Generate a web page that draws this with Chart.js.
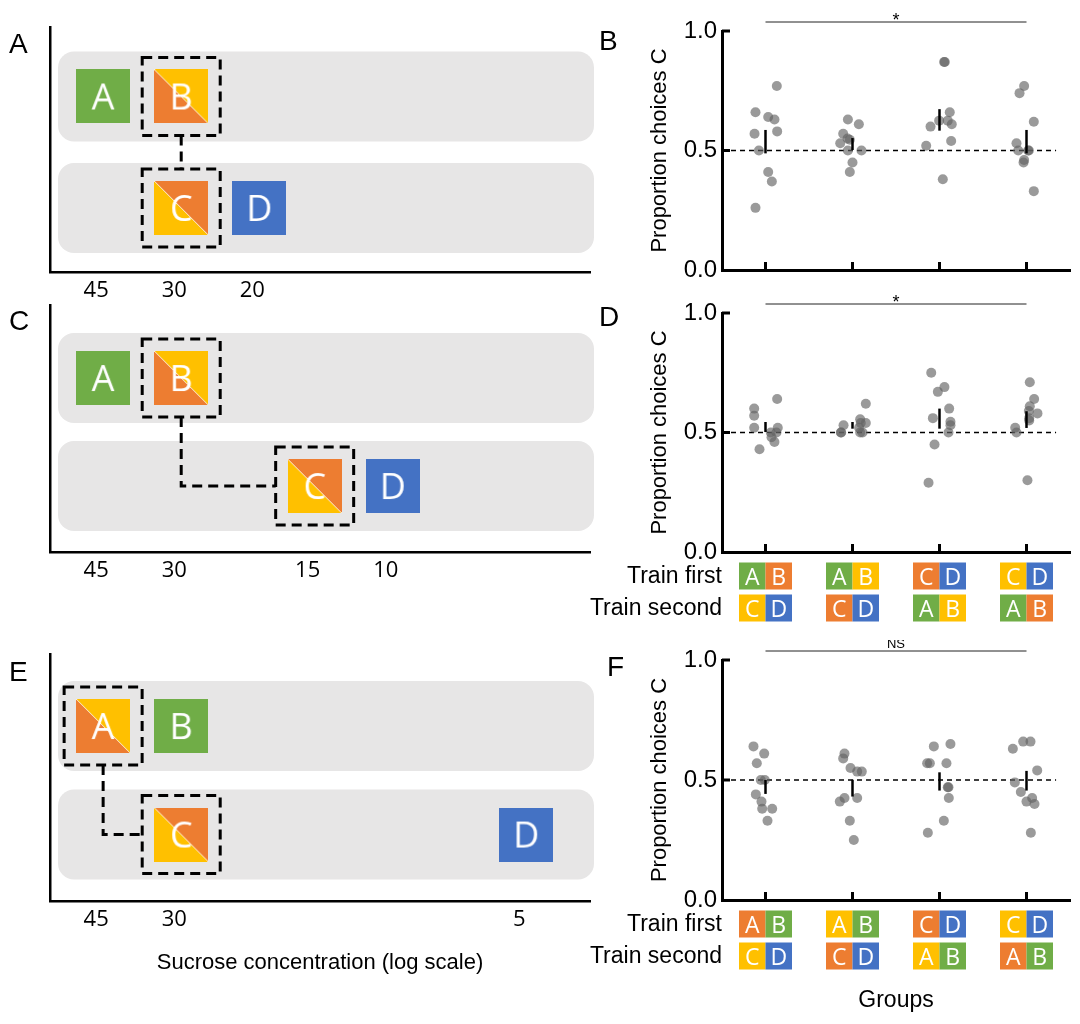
<!DOCTYPE html>
<html>
<head>
<meta charset="utf-8">
<script src="https://cdn.jsdelivr.net/npm/chart.js@4.4.1/dist/chart.umd.min.js"></script>
<style>
  body { margin: 0; background: #fff; }
  #fig { position: relative; width: 1080px; height: 1024px; overflow: hidden; }
  canvas { position: absolute; }
  .lab { position: absolute; font-family: "Liberation Sans", Arial, sans-serif; font-size: 28px; line-height: 1; color: #000; }
</style>
</head>
<body>
<div id="fig">
  <canvas id="pA" width="600" height="320" style="left:0;top:0"></canvas>
  <canvas id="pC" width="600" height="320" style="left:0;top:300px"></canvas>
  <canvas id="pE" width="600" height="384" style="left:0;top:640px"></canvas>
  <canvas id="pB" width="500" height="290" style="left:580px;top:0"></canvas>
  <canvas id="pD" width="500" height="340" style="left:580px;top:290px"></canvas>
  <canvas id="pF" width="500" height="384" style="left:580px;top:640px"></canvas>
  <div class="lab" style="left:9px;top:30px">A</div>
  <div class="lab" style="left:9px;top:307px">C</div>
  <div class="lab" style="left:9px;top:658px">E</div>
  <div class="lab" style="left:599px;top:27px">B</div>
  <div class="lab" style="left:599px;top:303px">D</div>
  <div class="lab" style="left:607px;top:653px">F</div>
</div>
<script>
document.addEventListener("DOMContentLoaded", function () {

  // ---- right panels: proportion of C choices per group ----
  const groups = [1, 2, 3, 4];
  const yTicks = [0, 0.5, 1];
  const chance = 0.5;

  const bVals = [
    [0.66, 0.64, 0.63, 0.77, 0.57, 0.58, 0.50, 0.41, 0.37, 0.26],
    [0.63, 0.61, 0.57, 0.55, 0.53, 0.545, 0.50, 0.50, 0.45, 0.41],
    [0.87, 0.87, 0.66, 0.625, 0.625, 0.61, 0.60, 0.54, 0.52, 0.38],
    [0.77, 0.74, 0.62, 0.53, 0.50, 0.50, 0.46, 0.45, 0.33, 0.50]
  ];
  const bJit = [
    [-0.115, 0.031, 0.103, 0.130, -0.126, 0.134, -0.076, 0.031, 0.073, -0.115],
    [-0.053, 0.073, -0.107, -0.057, -0.141, -0.031, -0.053, 0.103, 0, -0.031],
    [0.053, 0.061, 0.118, -0.004, 0.095, 0.141, -0.103, 0.134, -0.153, 0.038],
    [-0.027, -0.080, 0.084, -0.115, -0.095, 0.019, -0.027, -0.034, 0.084, 0.027]
  ];
  const bMean = [0.537, 0.527, 0.628, 0.537];
  const bSem = [0.049, 0.025, 0.045, 0.049];

  const dVals = [
    [0.60, 0.57, 0.52, 0.64, 0.52, 0.50, 0.48, 0.46, 0.43, 0.50],
    [0.50, 0.53, 0.555, 0.54, 0.62, 0.50, 0.54, 0.52, 0.50, 0.50],
    [0.75, 0.67, 0.69, 0.60, 0.56, 0.545, 0.53, 0.50, 0.45, 0.29],
    [0.71, 0.64, 0.61, 0.58, 0.56, 0.55, 0.52, 0.50, 0.30, 0.59]
  ];
  const dJit = [
    [-0.130, -0.130, -0.130, 0.134, 0.141, 0.061, 0.069, 0.103, -0.069, 0.126],
    [-0.134, -0.103, 0.088, 0.095, 0.153, 0.115, 0.153, 0.076, 0.088, -0.130],
    [-0.095, -0.019, 0.057, 0.111, -0.076, 0.126, 0.126, 0.103, -0.057, -0.126],
    [0.038, 0.088, 0.038, 0.126, 0.031, 0.031, -0.130, -0.115, 0.011, 0.027]
  ];
  const dMean = [0.523, 0.530, 0.558, 0.554];
  const dSem = [0.021, 0.014, 0.042, 0.035];

  const fVals = [
    [0.64, 0.61, 0.57, 0.50, 0.44, 0.41, 0.38, 0.38, 0.33, 0.50],
    [0.61, 0.59, 0.55, 0.535, 0.535, 0.425, 0.41, 0.425, 0.33, 0.25],
    [0.64, 0.65, 0.57, 0.57, 0.57, 0.47, 0.425, 0.33, 0.28, 0.47],
    [0.63, 0.66, 0.66, 0.54, 0.49, 0.45, 0.425, 0.41, 0.40, 0.28]
  ];
  const fJit = [
    [-0.138, -0.015, -0.100, -0.054, -0.111, -0.046, -0.038, 0.077, 0.023, -0.008],
    [-0.092, -0.107, -0.023, 0.054, 0.107, -0.092, -0.146, 0.054, -0.031, 0.015],
    [-0.065, 0.126, -0.142, -0.111, 0.080, 0.103, 0.107, 0.050, -0.134, 0.095],
    [-0.157, -0.038, 0.046, 0.123, -0.134, -0.065, 0.065, 0, 0.092, 0.050]
  ];
  const fMean = [0.471, 0.466, 0.494, 0.497];
  const fSem = [0.029, 0.035, 0.038, 0.041];

  // training pairs under D and F (letters + colour keys)
  const trainFirstD = ['AB', 'AB', 'CD', 'CD'];
  const trainFirstDKey = ['GO', 'GY', 'OB', 'YB'];
  const trainSecondD = ['CD', 'CD', 'AB', 'AB'];
  const trainSecondDKey = ['YB', 'OB', 'GY', 'GO'];
  const trainFirstF = ['AB', 'AB', 'CD', 'CD'];
  const trainFirstFKey = ['OG', 'YG', 'OB', 'YB'];
  const trainSecondF = ['CD', 'CD', 'AB', 'AB'];
  const trainSecondFKey = ['YB', 'OB', 'YG', 'OG'];

  // ---- left panels: stimuli on sucrose concentration axis ----
  const stim = ['A', 'B', 'C', 'D'];
  const row = [1, 1, 0, 0];
  const concA = [45, 30, 30, 20];
  const concC = [45, 30, 15, 10];
  const concE = [45, 30, 30, 5];
  const keyAC = ['G', 'OY', 'YO', 'B'];
  const keyE = ['OY', 'G', 'YO', 'B'];
  const pairA = [1, 2];
  const pairC = [1, 2];
  const pairE = [0, 2];
  const tickA = [45, 30, 20];
  const tickC = [45, 30, 15, 10];
  const tickE = [45, 30, 5];

  const PAL = { G: '#70AD47', O: '#ED7D31', Y: '#FFC000', B: '#4472C4' };
  const SANS = '"Liberation Sans", Arial, sans-serif';
  const OPEN = '"Open Sans", sans-serif';

  // coloured square with a letter; two-colour keys are split on the diagonal
  function tile(letter, key) {
    const c = document.createElement('canvas');
    c.width = 54; c.height = 54;
    const g = c.getContext('2d');
    if (key.length === 1) {
      g.fillStyle = PAL[key]; g.fillRect(0, 0, 54, 54);
    } else {
      g.fillStyle = PAL[key[0]];
      g.beginPath(); g.moveTo(0, 0); g.lineTo(54, 54); g.lineTo(0, 54); g.closePath(); g.fill();
      g.fillStyle = PAL[key[1]];
      g.beginPath(); g.moveTo(0, 0); g.lineTo(54, 0); g.lineTo(54, 54); g.closePath(); g.fill();
      g.strokeStyle = 'rgba(255,255,255,0.8)'; g.lineWidth = 1;
      g.beginPath(); g.moveTo(0, 0); g.lineTo(54, 54); g.stroke();
    }
    g.fillStyle = '#fff';
    g.font = '36px ' + OPEN;
    g.textAlign = 'center';
    g.textBaseline = 'alphabetic';
    g.fillText(letter, 27, 40);
    return c;
  }

  function diagram(id, conc, keys, pair, ticks, pad, xh, yMin, yMax, xTitle) {
    const decor = {
      id: 'decor',
      beforeDatasetsDraw(chart) {
        const { ctx, chartArea: a, scales: { y } } = chart;
        ctx.save();
        ctx.fillStyle = '#E7E6E6';
        [1, 0].forEach(r => {
          const cy = y.getPixelForValue(r);
          ctx.beginPath();
          ctx.roundRect(a.left + 8, cy - 45, a.right - a.left - 4, 90, 16);
          ctx.fill();
        });
        ctx.restore();
      },
      afterDatasetsDraw(chart) {
        const { ctx, scales: { x, y } } = chart;
        const [u, l] = pair;
        const ux = x.getPixelForValue(conc[u]), uy = y.getPixelForValue(row[u]);
        const lx = x.getPixelForValue(conc[l]), ly = y.getPixelForValue(row[l]);
        const h = 39;
        ctx.save();
        ctx.strokeStyle = '#000';
        ctx.lineWidth = 3;
        ctx.setLineDash([10, 6]);
        ctx.strokeRect(ux - h, uy - h, 2 * h, 2 * h);
        ctx.strokeRect(lx - h, ly - h, 2 * h, 2 * h);
        ctx.beginPath();
        ctx.moveTo(ux, uy + h);
        if (Math.abs(ux - lx) < 1) {
          ctx.lineTo(lx, ly - h);
        } else {
          ctx.lineTo(ux, ly);
          ctx.lineTo(lx - h, ly);
        }
        ctx.stroke();
        ctx.restore();
      }
    };

    new Chart(document.getElementById(id), {
      type: 'scatter',
      data: {
        datasets: [{
          data: conc.map((c, i) => ({ x: c, y: row[i] })),
          pointStyle: stim.map((s, i) => tile(s, keys[i])),
          pointRadius: 27,
          pointHoverRadius: 27
        }]
      },
      options: {
        responsive: false,
        animation: false,
        events: [],
        layout: { padding: pad, autoPadding: false },
        plugins: { legend: { display: false }, tooltip: { enabled: false } },
        scales: {
          x: {
            type: 'logarithmic',
            reverse: true,
            min: 3.59,
            max: 59.3,
            afterBuildTicks: s => { s.ticks = ticks.map(v => ({ value: v })); },
            afterFit: s => { s.height = xh; s.paddingLeft = 0; s.paddingRight = 0; },
            grid: { display: false, drawTicks: false },
            border: { display: true, color: '#000', width: 2.5 },
            ticks: {
              autoSkip: false, maxRotation: 0, padding: 6, labelOffset: -7,
              color: '#000', font: { family: OPEN, size: 22 },
              callback: v => String(v)
            },
            title: xTitle
              ? { display: true, text: xTitle, color: '#000', font: { family: SANS, size: 22 }, padding: { top: 0, bottom: 48 } }
              : { display: false }
          },
          y: {
            min: yMin,
            max: yMax,
            afterFit: s => { s.width = 50; },
            grid: { display: false, drawTicks: false },
            border: { display: true, color: '#000', width: 2.5 },
            ticks: { display: false }
          }
        }
      },
      plugins: [decor]
    });
  }

  function dotPanel(id, vals, jit, mean, sem, sig, pad, xh, train, xTitle) {
    const points = [];
    vals.forEach((arr, g) => arr.forEach((v, k) => points.push({ x: groups[g] + jit[g][k], y: v })));

    const decor = {
      id: 'decor',
      afterDatasetsDraw(chart) {
        const { ctx, scales: { x, y } } = chart;
        ctx.save();
        ctx.strokeStyle = '#000';
        ctx.lineWidth = 2.5;
        groups.forEach((gv, g) => {
          const px = x.getPixelForValue(gv);
          ctx.beginPath();
          ctx.moveTo(px, y.getPixelForValue(mean[g] - sem[g]));
          ctx.lineTo(px, y.getPixelForValue(mean[g] + sem[g]));
          ctx.stroke();
        });
        ctx.restore();
      },
      afterDraw(chart) {
        const { ctx, chartArea: a, scales: { x, y } } = chart;
        ctx.save();
        // inward tick marks
        ctx.strokeStyle = '#000';
        ctx.lineWidth = 3;
        yTicks.slice(1).forEach(v => {
          const py = y.getPixelForValue(v);
          ctx.beginPath(); ctx.moveTo(a.left, py); ctx.lineTo(a.left + 8, py); ctx.stroke();
        });
        groups.forEach(gv => {
          const px = x.getPixelForValue(gv);
          ctx.beginPath(); ctx.moveTo(px, a.bottom); ctx.lineTo(px, a.bottom - 8); ctx.stroke();
        });
        // significance bar
        const x1 = x.getPixelForValue(groups[0]), x4 = x.getPixelForValue(groups[3]);
        ctx.lineWidth = 1;
        ctx.strokeStyle = '#222';
        ctx.beginPath(); ctx.moveTo(x1, a.top - 9); ctx.lineTo(x4, a.top - 9); ctx.stroke();
        ctx.fillStyle = '#000';
        ctx.textAlign = 'center';
        ctx.textBaseline = 'alphabetic';
        if (sig === '*') {
          ctx.font = '18px ' + SANS;
          ctx.fillText(sig, (x1 + x4) / 2, a.top - 5);
        } else {
          ctx.font = '13px ' + SANS;
          ctx.fillText(sig, (x1 + x4) / 2, a.top - 12);
        }
        // training pairs
        if (train) {
          const rows = [
            ['Train first', train.first, train.firstKey, 24],
            ['Train second', train.second, train.secondKey, 56]
          ];
          rows.forEach(([label, letters, keys, off]) => {
            const cy = a.bottom + off;
            ctx.font = '23px ' + SANS;
            ctx.textAlign = 'right';
            ctx.textBaseline = 'middle';
            ctx.fillStyle = '#000';
            ctx.fillText(label, a.left, cy + 1);
            groups.forEach((gv, g) => {
              const px = x.getPixelForValue(gv);
              for (let k = 0; k < 2; k++) {
                const left = px - 26.5 + k * 26.5;
                ctx.fillStyle = PAL[keys[g][k]];
                ctx.fillRect(left, cy - 13.5, 26.5, 27);
                ctx.fillStyle = '#fff';
                ctx.font = '23px ' + OPEN;
                ctx.textAlign = 'center';
                ctx.textBaseline = 'alphabetic';
                ctx.fillText(letters[g][k], left + 13.25, cy + 8.5);
              }
            });
          });
        }
        ctx.restore();
      }
    };

    new Chart(document.getElementById(id), {
      type: 'scatter',
      data: {
        datasets: [
          {
            data: points,
            order: 0,
            pointRadius: 5,
            pointHoverRadius: 5,
            pointBorderWidth: 0,
            backgroundColor: 'rgba(100,100,100,0.65)'
          },
          {
            type: 'line',
            order: 1,
            data: [{ x: 0.5, y: chance }, { x: 4.34, y: chance }],
            borderColor: '#000',
            borderWidth: 1.3,
            borderDash: [5, 4],
            pointRadius: 0
          }
        ]
      },
      options: {
        responsive: false,
        animation: false,
        events: [],
        layout: { padding: pad, autoPadding: false },
        plugins: { legend: { display: false }, tooltip: { enabled: false } },
        scales: {
          x: {
            type: 'linear',
            min: 0.5,
            max: 4.5,
            afterFit: s => { s.height = xh; s.paddingLeft = 0; s.paddingRight = 0; },
            grid: { display: false, drawTicks: false },
            border: { display: true, color: '#000', width: 3 },
            ticks: { display: false },
            title: xTitle
              ? { display: true, text: xTitle, color: '#000', font: { family: SANS, size: 23 }, padding: { top: 0, bottom: 10 } }
              : { display: false }
          },
          y: {
            min: 0,
            max: 1,
            afterBuildTicks: s => { s.ticks = yTicks.map(v => ({ value: v })); },
            afterFit: s => { s.width = 142; },
            grid: { display: false, drawTicks: false },
            border: { display: true, color: '#000', width: 3 },
            ticks: { padding: 5, color: '#000', font: { family: SANS, size: 24 }, callback: v => v.toFixed(1) },
            title: { display: true, text: 'Proportion choices C', color: '#000', font: { family: SANS, size: 22 }, padding: { top: 67, bottom: 0 } }
          }
        }
      },
      plugins: [decor]
    });
  }

  diagram('pA', concA, keyAC, pairA, tickA, { top: 27, right: 10, left: 0, bottom: 0 }, 48, -0.574, 1.623, null);
  diagram('pC', concC, keyAC, pairC, tickC, { top: 5, right: 10, left: 0, bottom: 0 }, 68, -0.611, 1.676, null);
  diagram('pE', concE, keyE, pairE, tickE, { top: 14, right: 10, left: 0, bottom: 0 }, 123, -0.613, 1.664,
    'Sucrose concentration (log scale)');

  dotPanel('pB', bVals, bJit, bMean, bSem, '*', { top: 31, right: 10, left: 0, bottom: 0 }, 20, null, null);
  dotPanel('pD', dVals, dJit, dMean, dSem, '*', { top: 23, right: 10, left: 0, bottom: 0 }, 78,
    { first: trainFirstD, firstKey: trainFirstDKey, second: trainSecondD, secondKey: trainSecondDKey }, null);
  dotPanel('pF', fVals, fJit, fMean, fSem, 'NS', { top: 20, right: 10, left: 0, bottom: 0 }, 124,
    { first: trainFirstF, firstKey: trainFirstFKey, second: trainSecondF, secondKey: trainSecondFKey }, 'Groups');
});
</script>
</body>
</html>
